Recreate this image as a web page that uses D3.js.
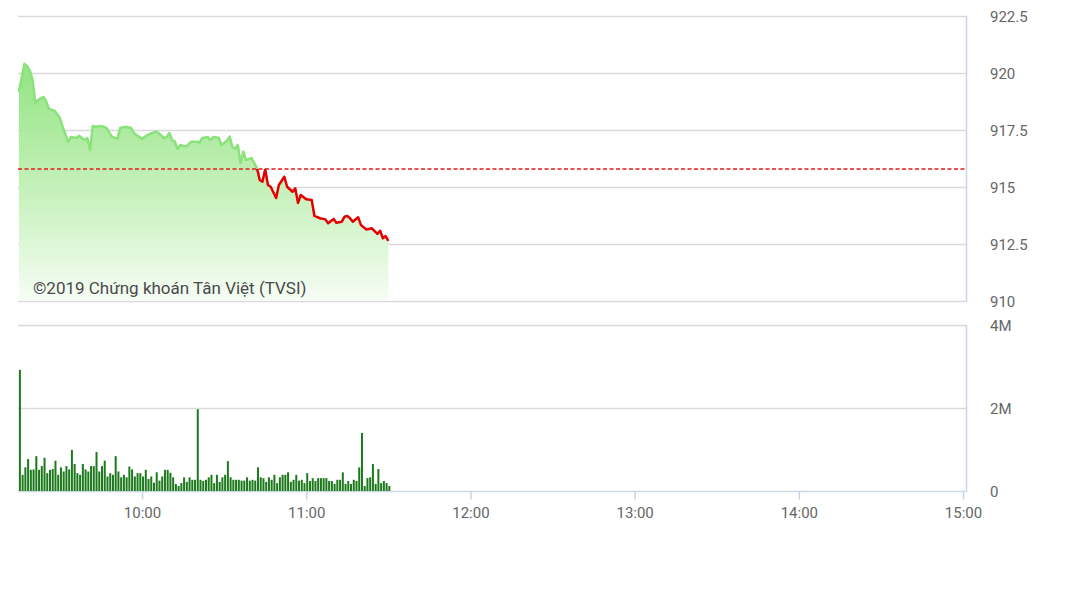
<!DOCTYPE html>
<html>
<head>
<meta charset="utf-8">
<script src="https://cdn.jsdelivr.net/npm/d3@7"></script>
<style>
  html, body { margin: 0; padding: 0; background: #fff; }
  svg { display: block; font-family: Roboto, "Noto Sans", sans-serif; }
</style>
</head>
<body>
<svg id="chart" width="1077" height="605"></svg>
<script>
// ---------- data ----------
const referencePrice = 915.79;
const priceTicks = [910, 912.5, 915, 917.5, 920, 922.5];
const volumeTicks = [0, 2, 4];               // millions
const timeTicks = ["10:00", "11:00", "12:00", "13:00", "14:00", "15:00"];
const sessionStart = "09:15", sessionEnd = "15:00";
const watermark = "©2019 Chứng khoán Tân Việt (TVSI)";

const priceTimes = ["09:15","09:17","09:18","09:19","09:20","09:21","09:22","09:24","09:25","09:26",
  "09:28","09:30","09:31","09:33","09:34","09:36","09:37","09:38","09:39","09:40",
  "09:41","09:42","09:43","09:45","09:47","09:49","09:51","09:52","09:54","09:56",
  "09:57","09:58","10:00","10:02","10:05","10:06","10:08","10:09","10:10","10:11",
  "10:12","10:13","10:14","10:16","10:18","10:20","10:21","10:22","10:24","10:25",
  "10:26","10:28","10:29","10:31","10:32","10:33","10:34","10:35","10:36","10:37",
  "10:38","10:40","10:41","10:42","10:43","10:44","10:45","10:46","10:47","10:49",
  "10:50","10:52","10:53","10:55","10:56","10:57","10:58","11:00","11:02","11:03",
  "11:05","11:07","11:08","11:10","11:11","11:13","11:14","11:15","11:16","11:17",
  "11:19","11:20","11:21","11:22","11:24","11:26","11:27","11:28","11:29","11:30"];
const priceValues = [919.18,920.40,920.30,920.10,919.70,918.68,918.82,918.95,918.74,918.42,
  918.35,918.03,917.63,916.99,917.19,917.15,917.25,917.15,917.06,917.15,
  916.62,917.68,917.64,917.68,917.59,917.21,917.11,917.59,917.64,917.59,
  917.37,917.28,917.11,917.28,917.43,917.37,917.15,917.19,917.37,917.06,
  916.99,916.67,916.84,916.77,916.99,916.99,916.94,917.15,917.19,917.06,
  917.19,917.16,916.84,917.03,917.21,916.77,916.67,916.84,916.05,916.55,
  916.18,916.27,916.05,915.83,915.31,915.23,915.78,915.09,915.01,914.52,
  915.09,915.45,915.01,914.79,914.94,914.30,914.65,914.46,914.43,913.73,
  913.63,913.58,913.41,913.60,913.43,913.48,913.70,913.73,913.63,913.48,
  913.67,913.33,913.23,913.14,913.19,912.94,913.08,912.75,912.85,912.64];

const volumeTimes = [
  "09:15","09:16","09:17","09:18","09:19","09:20","09:21","09:22","09:23","09:24",
  "09:25","09:26","09:27","09:28","09:29","09:30","09:31","09:32","09:33","09:34",
  "09:35","09:36","09:37","09:38","09:39","09:40","09:41","09:42","09:43","09:44",
  "09:45","09:46","09:47","09:48","09:49","09:50","09:51","09:52","09:53","09:54",
  "09:55","09:56","09:57","09:58","09:59","10:00","10:01","10:02","10:03","10:04",
  "10:05","10:06","10:07","10:08","10:09","10:10","10:11","10:12","10:13","10:14",
  "10:15","10:16","10:17","10:18","10:19","10:20","10:21","10:22","10:23","10:24",
  "10:25","10:26","10:27","10:28","10:29","10:30","10:31","10:32","10:33","10:34",
  "10:35","10:36","10:37","10:38","10:39","10:40","10:41","10:42","10:43","10:44",
  "10:45","10:46","10:47","10:48","10:49","10:50","10:51","10:52","10:53","10:54",
  "10:55","10:56","10:57","10:58","10:59","11:00","11:01","11:02","11:03","11:04",
  "11:05","11:06","11:07","11:08","11:09","11:10","11:11","11:12","11:13","11:14",
  "11:15","11:16","11:17","11:18","11:19","11:20","11:21","11:22","11:23","11:24",
  "11:25","11:26","11:27","11:28","11:29","11:30"];
const volumeValues = [ // millions of shares
  2.92,0.39,0.57,0.77,0.51,0.52,0.84,0.51,0.60,0.80,
  0.43,0.51,0.53,0.73,0.39,0.57,0.47,0.60,0.52,0.99,
  0.65,0.43,0.39,0.65,0.52,0.47,0.60,0.60,0.94,0.47,
  0.60,0.73,0.35,0.43,0.39,0.84,0.47,0.33,0.39,0.33,
  0.59,0.52,0.35,0.43,0.43,0.35,0.51,0.29,0.35,0.20,
  0.45,0.25,0.35,0.51,0.51,0.44,0.33,0.17,0.12,0.19,
  0.33,0.22,0.33,0.27,0.27,1.97,
  0.27,0.24,0.27,0.33,0.39,0.19,0.39,0.22,0.33,0.39,
  0.72,0.33,0.27,0.27,0.27,0.25,0.25,0.33,0.25,0.27,
  0.25,0.57,0.33,0.31,0.22,0.33,0.27,0.39,0.19,0.33,
  0.39,0.39,0.45,0.22,0.27,0.39,0.25,0.27,0.19,0.43,
  0.24,0.31,0.24,0.31,0.31,0.31,0.31,0.24,0.24,0.17,
  0.27,0.27,0.45,0.17,0.24,0.17,0.27,0.24,0.57,1.40,
  0.12,0.31,0.33,0.65,0.17,0.53,0.19,0.24,0.19,0.12];

// ---------- layout ----------
const parseT = d3.timeParse("%H:%M");
const plotLeft = 18, plotRight = 967;
const priceTop = 16, priceBottom = 301;
const volTop = 325, volBottom = 491;

const x = d3.scaleTime().domain([parseT(sessionStart), parseT(sessionEnd)]).range([18.9, 963]);
const yP = d3.scaleLinear().domain([910, 922.5]).range([priceBottom, priceTop]);
const yV = d3.scaleLinear().domain([0, 4]).range([volBottom, volTop]);

const svg = d3.select("#chart");
svg.append("rect").attr("width", 1077).attr("height", 605).attr("fill", "#fff");

const defs = svg.append("defs");
const grad = defs.append("linearGradient").attr("id", "areaGrad")
  .attr("gradientUnits", "userSpaceOnUse").attr("x1", 0).attr("x2", 0)
  .attr("y1", priceTop + 40).attr("y2", priceBottom);
grad.append("stop").attr("offset", 0).attr("stop-color", "#8fe37f");
grad.append("stop").attr("offset", 0.55).attr("stop-color", "#c6f1bb");
grad.append("stop").attr("offset", 1).attr("stop-color", "#f6fdf5");

const yRef = yP(referencePrice);
defs.append("clipPath").attr("id", "clipAbove").append("rect")
  .attr("x", 0).attr("y", 0).attr("width", 1077).attr("height", yRef);
defs.append("clipPath").attr("id", "clipBelow").append("rect")
  .attr("x", 0).attr("y", yRef).attr("width", 1077).attr("height", 605 - yRef);

// price gridlines
svg.append("g").selectAll("line").data(priceTicks).join("line")
  .attr("x1", plotLeft).attr("x2", plotRight - 1)
  .attr("y1", d => Math.round(yP(d)) + 0.5).attr("y2", d => Math.round(yP(d)) + 0.5)
  .attr("stroke", "#d9d9d9").attr("stroke-width", 1.5);

// price labels
svg.append("g").selectAll("text").data(priceTicks).join("text")
  .attr("x", 990).attr("y", d => yP(d) + 5.5)
  .attr("font-size", 15).attr("fill", "#666")
  .text(d => d);

const priceData = priceTimes.map((t, i) => ({ t: parseT(t), v: priceValues[i] }));

// area
svg.append("path").datum(priceData)
  .attr("d", d3.area().x(d => x(d.t)).y0(priceBottom).y1(d => yP(d.v)))
  .attr("fill", "url(#areaGrad)");

// watermark
svg.append("text").attr("x", 33).attr("y", 294)
  .attr("font-size", 17).attr("fill", "#4a4a4a").text(watermark);

// price line (green above reference, red below)
const lineGen = d3.line().x(d => x(d.t)).y(d => yP(d.v));
svg.append("path").datum(priceData).attr("d", lineGen)
  .attr("fill", "none").attr("stroke", "#8ae27a").attr("stroke-width", 2.5)
  .attr("stroke-linejoin", "round").attr("clip-path", "url(#clipAbove)");
svg.append("path").datum(priceData).attr("d", lineGen)
  .attr("fill", "none").attr("stroke", "#e50000").attr("stroke-width", 2.5)
  .attr("stroke-linejoin", "round").attr("clip-path", "url(#clipBelow)");

// reference line
svg.append("line").attr("x1", plotLeft).attr("x2", plotRight - 1)
  .attr("y1", yRef).attr("y2", yRef)
  .attr("stroke", "#e31b1b").attr("stroke-width", 1.4).attr("stroke-dasharray", "4,2.5");

// price panel right border
svg.append("line").attr("x1", plotRight - 0.5).attr("x2", plotRight - 0.5)
  .attr("y1", priceTop).attr("y2", priceBottom + 1)
  .attr("stroke", "#c6d5ea").attr("stroke-width", 1.5);

// volume gridlines
svg.append("g").selectAll("line").data(volumeTicks).join("line")
  .attr("x1", plotLeft).attr("x2", plotRight - 1)
  .attr("y1", d => Math.round(yV(d)) + 0.5).attr("y2", d => Math.round(yV(d)) + 0.5)
  .attr("stroke", d => d === 0 ? "#cdd8e6" : "#d9d9d9").attr("stroke-width", 1.5);

svg.append("g").selectAll("text").data(volumeTicks).join("text")
  .attr("x", 990).attr("y", d => yV(d) + 5.5)
  .attr("font-size", 15).attr("fill", "#666")
  .text(d => d === 0 ? "0" : d + "M");

svg.append("line").attr("x1", plotRight - 0.5).attr("x2", plotRight - 0.5)
  .attr("y1", volTop).attr("y2", volBottom + 1)
  .attr("stroke", "#c6d5ea").attr("stroke-width", 1.5);

// volume bars
const volData = volumeTimes.map((t, i) => ({ t: parseT(t), v: volumeValues[i] }));
svg.append("g").selectAll("rect").data(volData).join("rect")
  .attr("x", d => x(d.t))
  .attr("width", 2)
  .attr("y", d => yV(d.v))
  .attr("height", d => volBottom - yV(d.v))
  .attr("fill", "#1c7a1c");

// time axis
const xAxis = d3.axisBottom(x)
  .tickValues(timeTicks.map(parseT))
  .tickFormat(d3.timeFormat("%H:%M"))
  .tickSize(8).tickPadding(8);
const gx = svg.append("g").attr("transform", `translate(0,${volBottom + 0.5})`).call(xAxis);
gx.select(".domain").remove();
gx.selectAll(".tick line").attr("stroke", "#c6d5ea").attr("stroke-width", 1.5);
gx.selectAll(".tick text").attr("font-size", 15).attr("fill", "#666")
  .attr("font-family", "Roboto, sans-serif");
</script>
</body>
</html>
